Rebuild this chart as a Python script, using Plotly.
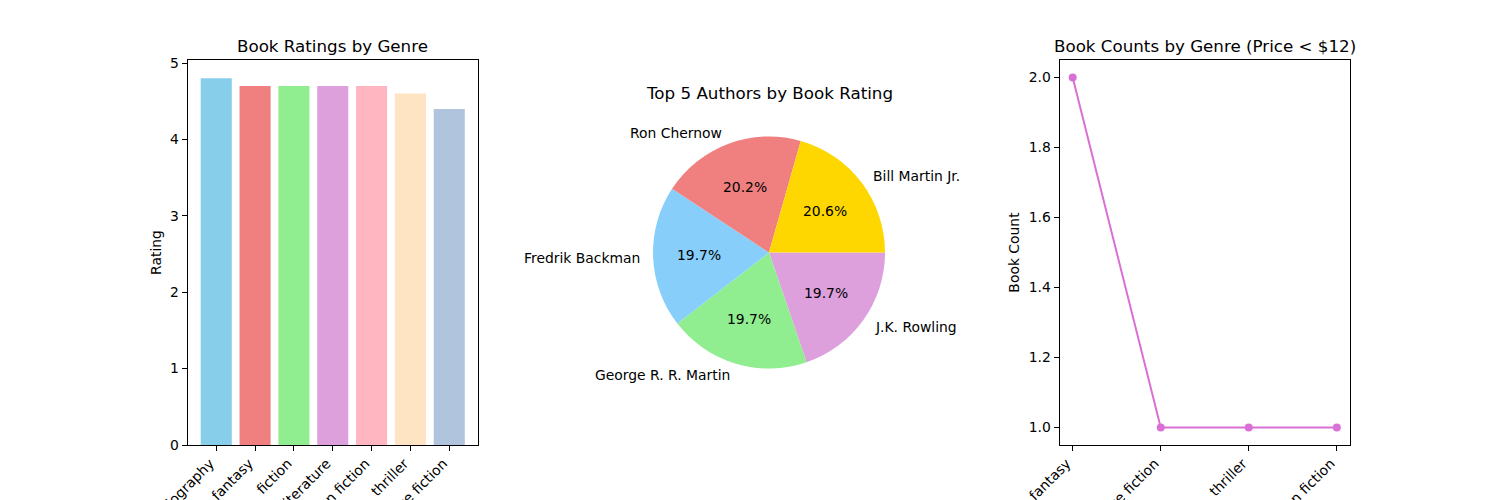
import math
import plotly.graph_objects as go

# ---- data ----
genres = ["biography", "fantasy", "fiction", "literature", "non fiction", "thriller", "science fiction"]
ratings = [4.8, 4.7, 4.7, 4.7, 4.7, 4.6, 4.4]
bar_colors = ["#87CEEB", "#F08080", "#90EE90", "#DDA0DD", "#FFB6C1", "#FFE4C4", "#B0C4DE"]

authors = ["Bill Martin Jr.", "Ron Chernow", "Fredrik Backman", "George R. R. Martin", "J.K. Rowling"]
author_ratings = [4.9, 4.8, 4.7, 4.7, 4.7]
pie_colors = ["#FFD700", "#F08080", "#87CEFA", "#90EE90", "#DDA0DD"]

cheap_genres = ["fantasy", "science fiction", "thriller", "non fiction"]
cheap_counts = [2, 1, 1, 1]

# ---- layout geometry (figure pixels) ----
W, H = 1500, 500
FONT = "DejaVu Sans"
TICK = 13.9
TITLE = 16.7
ax_top, ax_bot = 60, 445
ax1 = (187.5, 478)
ax3 = (1059.5, 1350)
pie_cx, pie_cy, pie_r = 769, 252.5, 116

def px(x):
    return x / W

def py(y):
    return (H - y) / H

fig = go.Figure()

fig.add_trace(go.Bar(
    x=genres, y=ratings, width=0.8, marker=dict(color=bar_colors, line=dict(width=0)),
    xaxis="x", yaxis="y", showlegend=False,
))

# matplotlib draws slices counterclockwise from 3 o'clock; the same layout is
# obtained in plotly by drawing the reversed list clockwise from 3 o'clock.
fig.add_trace(go.Pie(
    labels=authors[::-1], values=author_ratings[::-1], sort=False, direction="clockwise",
    rotation=90, marker=dict(colors=pie_colors[::-1], line=dict(width=0)), textinfo="none",
    hoverinfo="label+percent", showlegend=False,
    domain=dict(x=[px(pie_cx - pie_r), px(pie_cx + pie_r)],
                y=[py(pie_cy + pie_r), py(pie_cy - pie_r)]),
))

fig.add_trace(go.Scatter(
    x=cheap_genres, y=cheap_counts, mode="lines+markers",
    line=dict(color="#DA70D6", width=2), marker=dict(color="#DA70D6", size=8),
    xaxis="x2", yaxis="y2", showlegend=False,
))

axis_common = dict(
    showgrid=False, zeroline=False, showline=True, mirror=True, linecolor="black",
    linewidth=1, ticks="outside", ticklen=5, tickcolor="black", tickwidth=1,
    tickfont=dict(family=FONT, size=TICK, color="black"), automargin=False,
)
xtick_extra = dict(tickangle=-45, ticklabelshift=-6, ticklabelstandoff=-1)

fig.update_layout(
    width=W, height=H, margin=dict(l=0, r=0, t=0, b=0),
    paper_bgcolor="white", plot_bgcolor="white",
    font=dict(family=FONT, color="black"),
    xaxis=dict(domain=[px(ax1[0]), px(ax1[1])], anchor="y", range=[-0.74, 6.74],
               **xtick_extra, **axis_common),
    yaxis=dict(domain=[py(ax_bot), py(ax_top)], anchor="x", range=[0, 5.04], dtick=1,
               title=dict(text="Rating", font=dict(family=FONT, size=TICK, color="black"), standoff=5),
               **axis_common),
    xaxis2=dict(domain=[px(ax3[0]), px(ax3[1])], anchor="y2", range=[-0.15, 3.15],
                **xtick_extra, **axis_common),
    yaxis2=dict(domain=[py(ax_bot), py(ax_top)], anchor="x2", range=[0.95, 2.05], dtick=0.2,
                tickformat=".1f",
                title=dict(text="Book Count", font=dict(family=FONT, size=TICK, color="black"), standoff=5),
                **axis_common),
)

annotations = []
# subplot titles
for text, xc in [("Book Ratings by Genre", (ax1[0] + ax1[1]) / 2),
                 ("Book Counts by Genre (Price < $12)", (ax3[0] + ax3[1]) / 2)]:
    annotations.append(dict(text=text, x=px(xc), y=py(46), xref="paper", yref="paper",
                            xanchor="center", yanchor="middle", showarrow=False,
                            font=dict(family=FONT, size=TITLE, color="black")))
annotations.append(dict(text="Top 5 Authors by Book Rating", x=px(pie_cx), y=py(93),
                        xref="paper", yref="paper", xanchor="center", yanchor="middle",
                        showarrow=False, font=dict(family=FONT, size=TITLE, color="black")))

# pie labels (matplotlib-style: labels at 1.1r, percentages at 0.6r)
total = sum(author_ratings)
start = 0.0
for name, v in zip(authors, author_ratings):
    frac = v / total
    mid = math.radians((start + frac / 2) * 360)
    start += frac
    cx, sy = math.cos(mid), math.sin(mid)
    annotations.append(dict(text=name, x=px(pie_cx + 1.1 * pie_r * cx), y=py(pie_cy - 1.1 * pie_r * sy),
                            xref="paper", yref="paper", xanchor="left" if cx > 0 else "right",
                            yanchor="middle", showarrow=False,
                            font=dict(family=FONT, size=TICK, color="black")))
    annotations.append(dict(text=f"{frac * 100:.1f}%", x=px(pie_cx + 0.6 * pie_r * cx),
                            y=py(pie_cy - 0.6 * pie_r * sy), xref="paper", yref="paper",
                            xanchor="center", yanchor="middle", showarrow=False,
                            font=dict(family=FONT, size=TICK, color="black")))

fig.update_layout(annotations=annotations)
fig.write_html("out.html")
